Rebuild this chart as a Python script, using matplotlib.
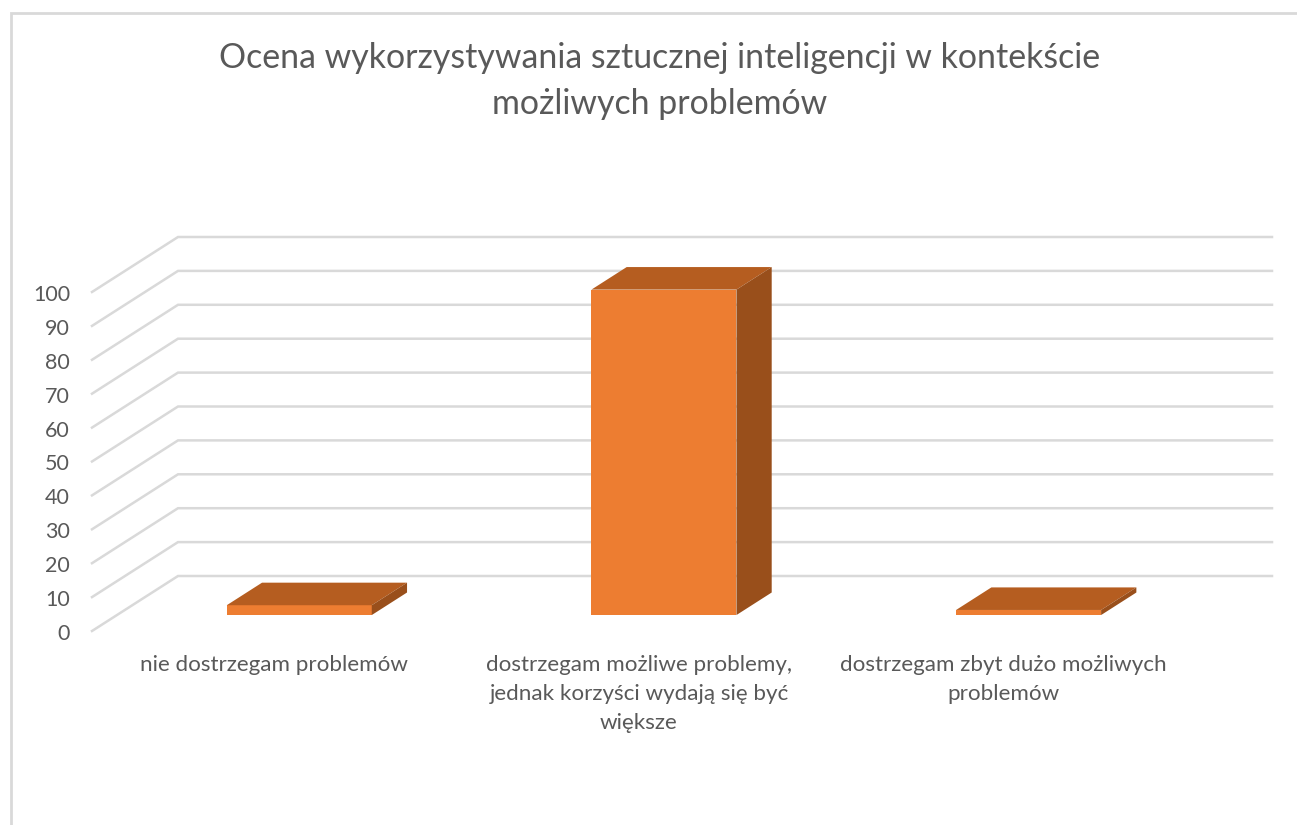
import matplotlib
matplotlib.use("Agg")
import matplotlib.pyplot as plt
from matplotlib.patches import Polygon

W, H = 1297, 825

title_text = "Ocena wykorzystywania sztucznej inteligencji w kontekście\nmożliwych problemów"
categories = [
    "nie dostrzegam problemów",
    "dostrzegam możliwe problemy,\njednak korzyści wydają się być\nwiększe",
    "dostrzegam zbyt dużo możliwych\nproblemów",
]
values = [2.9, 96.0, 1.5]
y_ticks = [0, 10, 20, 30, 40, 50, 60, 70, 80, 90, 100]

plt.rcParams["font.family"] = ["Lato", "DejaVu Sans"]

fig = plt.figure(figsize=(W / 100, H / 100), dpi=100)
ax = fig.add_axes([0, 0, 1, 1])
ax.axis("off")

# front plane of the 3d box: category -0.5 at px 92, 2.5 at px 1186; value 0 at py 631, 100 at py 292
px_per_cat = (1186 - 92) / 3
px_per_val = (631 - 292) / 100
ax.set_xlim(-0.5 - 92 / px_per_cat, -0.5 + (W - 92) / px_per_cat)
ax.set_ylim(-(H - 631) / px_per_val, 631 / px_per_val)

# depth of the floor and of the bars, in data units
depth_x = 86 / px_per_cat
depth_y = 55 / px_per_val
bar_front = 0.29
bar_depth = 0.41
bar_width = 145 / px_per_cat

grid_color = "#d9d9d9"
text_color = "#595959"

for t in y_ticks:
    ax.plot([-0.5, -0.5 + depth_x, 2.5 + depth_x], [t, t + depth_y, t + depth_y],
            color=grid_color, lw=1.8, solid_joinstyle="miter", zorder=1)
    ax.annotate(str(t), (-0.5, t), xytext=(-22, -3), textcoords="offset pixels",
                ha="right", va="center", fontsize=15.5, color=text_color)

front_color = "#ed7d31"
top_color = "#b55d20"
side_color = "#994f1b"

for i, v in enumerate(values):
    x0 = i - bar_width / 2 + depth_x * bar_front
    x1 = x0 + bar_width
    y0 = depth_y * bar_front
    y1 = y0 + v
    dx = depth_x * bar_depth
    dy = depth_y * bar_depth
    ax.bar(x0, v, width=bar_width, bottom=y0, align="edge", color=front_color, linewidth=0, zorder=3)
    ax.add_patch(Polygon([(x0, y1), (x1, y1), (x1 + dx, y1 + dy), (x0 + dx, y1 + dy)],
                         closed=True, facecolor=top_color, edgecolor="none", zorder=3))
    ax.add_patch(Polygon([(x1, y0), (x1 + dx, y0 + dy), (x1 + dx, y1 + dy), (x1, y1)],
                         closed=True, facecolor=side_color, edgecolor="none", zorder=3))

for i, label in enumerate(categories):
    ax.annotate(label, (i, 0), xytext=(0, -24), textcoords="offset pixels",
                ha="center", va="top", fontsize=16.1, color=text_color, linespacing=1.55)

fig.text(660 / W, 1 - 42 / H, title_text, ha="center", va="top", fontsize=24.4,
         color=text_color, linespacing=1.52)

# chart frame, only left and top edges are inside the crop
fig.add_artist(plt.Line2D([10.5 / W, 10.5 / W, 1], [0, 1 - 12.5 / H, 1 - 12.5 / H],
                          color=grid_color, lw=2, solid_joinstyle="miter"))

fig.savefig("out.png", dpi=100, facecolor="white")
